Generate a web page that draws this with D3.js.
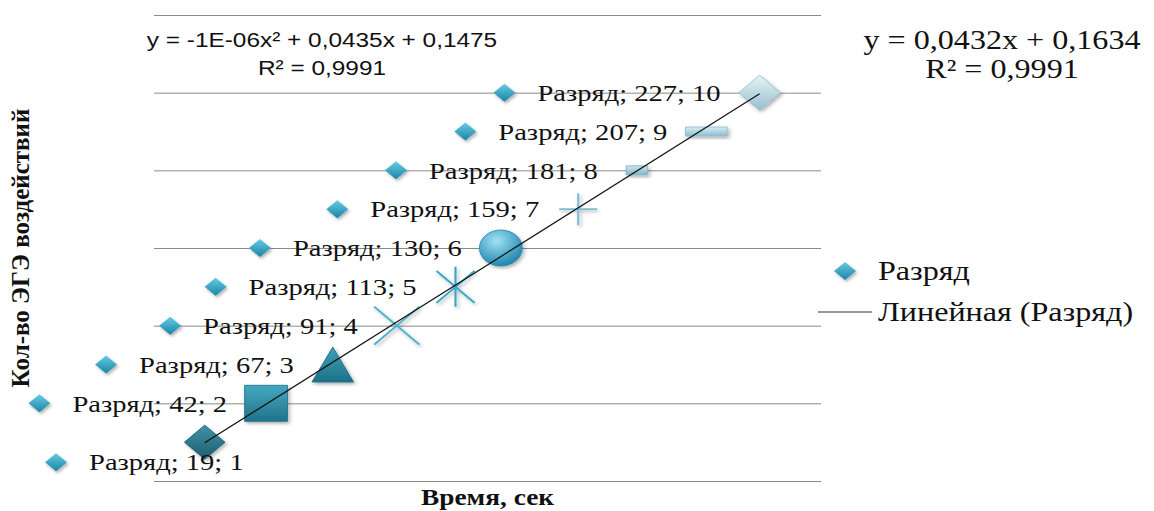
<!DOCTYPE html>
<html>
<head>
<meta charset="utf-8">
<script src="https://cdn.jsdelivr.net/npm/d3@7"></script>
<style>
  html, body { margin: 0; padding: 0; background: #fff; }
  svg { display: block; }
</style>
</head>
<body>
<div id="chart"></div>
<script>
// values
var times = [19, 42, 67, 91, 113, 130, 159, 181, 207, 227];
var counts = [1, 2, 3, 4, 5, 6, 7, 8, 9, 10];
var yTicks = [0, 2, 4, 6, 8, 10, 12];
var seriesName = 'Разряд';
var trendName = 'Линейная (Разряд)';
var trendSlope = 0.0432, trendIntercept = 0.1634;
var polyEqLines = ['y = -1E-06x² + 0,0435x + 0,1475', 'R² = 0,9991'];
var linEqLines = ['y = 0,0432x  + 0,1634', 'R² = 0,9991'];
var yTitle = 'Кол-во ЭГЭ воздействий';
var xTitle = 'Время, сек';

// each point has its own marker (excel "vary by point")
var pointStyles = [
  {shape: 'diamond', size: 34, top: '#3f93a6', bottom: '#1c5d6d'},
  {shape: 'square', size: 36, top: '#46a9c1', bottom: '#1f7389'},
  {shape: 'triangle', size: 35, top: '#3fa0b8', bottom: '#1d7187'},
  {shape: 'cross', size: 38, stroke: '#4cb3cf'},
  {shape: 'star', size: 40, stroke: '#3aa7ca'},
  {shape: 'circle', size: 36, top: '#8fdcf2', bottom: '#2a8fb6'},
  {shape: 'plus', size: 32, stroke: '#7bbdd6'},
  {shape: 'dash', size: 18, top: '#cde7f0', bottom: '#82b3c6'},
  {shape: 'dash', size: 35, top: '#d8eef5', bottom: '#8dbccd'},
  {shape: 'diamond', size: 35, top: '#e6f4f8', bottom: '#95bfcd'}
];

var width = 1154, height = 511;
var plot = {left: 154, right: 821, top: 15, bottom: 481};
var stretch = 1.19; // the picture is wider than tall-drawn text
var serif = '"Liberation Serif", "Times New Roman", serif';
var sans = '"Liberation Sans", Arial, sans-serif';

var x = d3.scaleLinear().domain([0, 250]).range([plot.left, plot.right]);
var y = d3.scaleLinear().domain([0, 12]).range([plot.bottom, plot.top]);

var data = times.map(function(t, i) {
  return {t: t, c: counts[i], style: pointStyles[i], i: i};
});

var svg = d3.select('#chart').append('svg')
  .attr('width', width).attr('height', height);

svg.append('rect').attr('width', width).attr('height', height).attr('fill', '#fff');

var defs = svg.append('defs');
var shadow = defs.append('filter').attr('id', 'shadow')
  .attr('x', '-30%').attr('y', '-30%').attr('width', '170%').attr('height', '170%');
shadow.append('feDropShadow').attr('dx', 1.5).attr('dy', 2).attr('stdDeviation', 1.6)
  .attr('flood-color', '#000').attr('flood-opacity', 0.3);

function linGrad(id, top, bottom) {
  var g = defs.append('linearGradient').attr('id', id)
    .attr('x1', 0).attr('y1', 0).attr('x2', 0).attr('y2', 1);
  g.append('stop').attr('offset', '0%').attr('stop-color', top);
  g.append('stop').attr('offset', '100%').attr('stop-color', bottom);
}
data.forEach(function(d) {
  if (d.style.top) linGrad('g' + d.i, d.style.top, d.style.bottom);
});
linGrad('key', '#66cbe6', '#1a84a4');
var rad = defs.append('radialGradient').attr('id', 'gcircle')
  .attr('cx', '40%').attr('cy', '30%').attr('r', '70%');
rad.append('stop').attr('offset', '0%').attr('stop-color', '#9fe3f5');
rad.append('stop').attr('offset', '100%').attr('stop-color', '#2386ae');

// gridlines
svg.append('g').selectAll('line').data(yTicks).enter().append('line')
  .attr('x1', plot.left).attr('x2', plot.right)
  .attr('y1', function(d) { return y(d) + 0.5; })
  .attr('y2', function(d) { return y(d) + 0.5; })
  .attr('stroke', '#8a8a8a').attr('stroke-width', 1);

// marker paths in unstretched units, centred on 0,0
function markerPath(shape, s) {
  var h = s / 2;
  switch (shape) {
    case 'diamond': return 'M0,' + (-h) + 'L' + h + ',0L0,' + h + 'L' + (-h) + ',0Z';
    case 'square': return 'M' + (-h) + ',' + (-h) + 'H' + h + 'V' + h + 'H' + (-h) + 'Z';
    case 'triangle': return 'M0,' + (-h) + 'L' + h + ',' + h + 'H' + (-h) + 'Z';
    case 'cross': return 'M' + (-h) + ',' + (-h) + 'L' + h + ',' + h + 'M' + h + ',' + (-h) + 'L' + (-h) + ',' + h;
    case 'star': return 'M' + (-h * 0.8) + ',' + (-h * 0.8) + 'L' + (h * 0.8) + ',' + (h * 0.8) +
      'M' + (h * 0.8) + ',' + (-h * 0.8) + 'L' + (-h * 0.8) + ',' + (h * 0.8) + 'M0,' + (-h) + 'V' + h;
    case 'plus': return 'M' + (-h) + ',0H' + h + 'M0,' + (-h) + 'V' + h;
    case 'dash': return 'M' + (-h) + ',-4.5H' + h + 'V4.5H' + (-h) + 'Z';
  }
  return '';
}

var marks = svg.append('g').selectAll('g.mark').data(data).enter().append('g')
  .attr('class', 'mark')
  .attr('transform', function(d) { return 'translate(' + x(d.t) + ',' + y(d.c) + ') scale(' + stretch + ',1)'; });

marks.each(function(d) {
  var g = d3.select(this), st = d.style;
  if (st.shape === 'circle') {
    g.append('circle').attr('r', st.size / 2)
      .attr('fill', 'url(#gcircle)').attr('stroke', '#2a8db3').attr('stroke-width', 0.8)
      .attr('filter', 'url(#shadow)');
  } else if (st.stroke) {
    g.append('path').attr('d', markerPath(st.shape, st.size))
      .attr('fill', 'none').attr('stroke', st.stroke).attr('stroke-width', 1.8)
      .attr('filter', 'url(#shadow)');
  } else {
    g.append('path').attr('d', markerPath(st.shape, st.size))
      .attr('fill', 'url(#g' + d.i + ')').attr('stroke', st.bottom).attr('stroke-width', 0.8)
      .attr('filter', 'url(#shadow)');
  }
});

// linear trendline over the data range
svg.append('line')
  .attr('x1', x(d3.min(times))).attr('y1', y(trendSlope * d3.min(times) + trendIntercept))
  .attr('x2', x(d3.max(times))).attr('y2', y(trendSlope * d3.max(times) + trendIntercept))
  .attr('stroke', '#111').attr('stroke-width', 1.2);

function keyDiamond(sel, cx, cy) {
  sel.append('path')
    .attr('d', 'M0,-9L11,0L0,9L-11,0Z')
    .attr('transform', 'translate(' + cx + ',' + cy + ')')
    .attr('fill', 'url(#key)').attr('filter', 'url(#shadow)');
}

// data labels, legend key + "name; x; y" to the left of the point
var labelGap = 39, keyGap = 33;
var labels = svg.append('g');
data.forEach(function(d) {
  var cx = x(d.t), cy = y(d.c);
  var endX, ly;
  if (d.i === 0) { endX = cx + labelGap; ly = cy + 20; }  // first label sits below
  else { endX = cx - labelGap; ly = cy; }
  var txt = labels.append('text')
    .attr('transform', 'translate(' + endX + ',' + ly + ') scale(' + stretch + ',1)')
    .attr('text-anchor', 'end').attr('dy', '0.34em')
    .attr('font-family', serif).attr('font-size', 24).attr('fill', '#111')
    .text(seriesName + '; ' + d.t + '; ' + d.c);
  var w = txt.node().getComputedTextLength() * stretch;
  keyDiamond(labels, endX - w - keyGap, ly);
});

// equations
function stretchedLines(lines, cx, y0, lh, family, size) {
  var g = svg.append('g');
  lines.forEach(function(s, k) {
    g.append('text')
      .attr('transform', 'translate(' + cx + ',' + (y0 + k * lh) + ') scale(' + stretch + ',1)')
      .attr('text-anchor', 'middle').attr('dy', '0.34em')
      .attr('font-family', family).attr('font-size', size).attr('fill', '#111')
      .text(s);
  });
}
stretchedLines(polyEqLines, 322, 40, 28, sans, 20.5);
stretchedLines(linEqLines, 1002, 40, 29, serif, 27);

// legend
keyDiamond(svg, 845, 271);
svg.append('text')
  .attr('transform', 'translate(878,271) scale(' + stretch + ',1)')
  .attr('dy', '0.34em').attr('font-family', serif).attr('font-size', 27).attr('fill', '#111')
  .text(seriesName);
svg.append('line').attr('x1', 818).attr('x2', 872).attr('y1', 312).attr('y2', 312)
  .attr('stroke', '#333').attr('stroke-width', 1.2);
svg.append('text')
  .attr('transform', 'translate(878,312) scale(' + stretch + ',1)')
  .attr('dy', '0.34em').attr('font-family', serif).attr('font-size', 27).attr('fill', '#111')
  .text(trendName);

// axis titles
svg.append('text')
  .attr('transform', 'translate(' + ((plot.left + plot.right) / 2) + ',497) scale(' + stretch + ',1)')
  .attr('text-anchor', 'middle').attr('dy', '0.34em')
  .attr('font-family', serif).attr('font-weight', 'bold').attr('font-size', 23).attr('fill', '#111')
  .text(xTitle);
svg.append('text')
  .attr('transform', 'translate(20,' + ((plot.top + plot.bottom) / 2) + ') rotate(-90)')
  .attr('text-anchor', 'middle').attr('dy', '0.34em')
  .attr('font-family', serif).attr('font-weight', 'bold').attr('font-size', 25).attr('fill', '#111')
  .text(yTitle);
</script>
</body>
</html>
